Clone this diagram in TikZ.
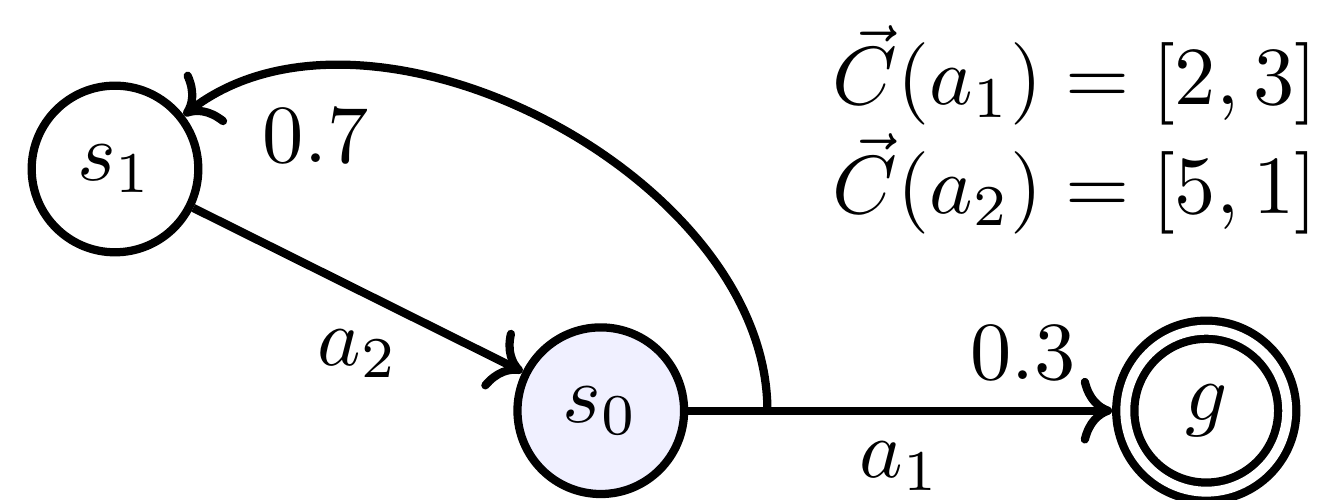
\documentclass[tikz,border=0pt]{standalone}
\usepackage{amsmath}
\usetikzlibrary{arrows.meta,positioning,calc}

\begin{document}
\begin{tikzpicture}[
  st/.style={circle, draw, line width=1pt, minimum size=0.71cm, inner sep=0pt},
  start/.style={fill=blue!6},
  goal/.style={double, double distance=1.2pt, minimum size=0.69cm, outer sep=1.6pt},
  flow/.style={->, line width=1pt},
]
\useasboundingbox (0,0) rectangle (5.68,2.13);

% ---------- states ----------
\node[st] (s1) at (0.49,1.41) {$s_1$};
\node[st, start] (s0) at (2.56,0.38) {$s_0$};
\node[st, goal] (g) at (5.14,0.38) {$g$};
\coordinate (split) at (3.27,0.38);

% ---------- transitions ----------
\draw[flow] (s1) -- node[below=1pt] (la2) {$a_2$} (s0);
\draw[flow] (s0) -- node[below] (la1) {$a_1$} node[pos=0.79, above] (p03) {$0.3$} (g);
\draw[flow] (split) to[out=90, in=38, looseness=0.92] node[pos=0.8, below=1.2pt] (p07) {$0.7$} (s1);

% ---------- cost vectors ----------
\node[anchor=north east, inner sep=0pt, align=right] (costs) at (5.62,2.03)
  {$\vec{C}(a_1) = [2,3]$\\$\vec{C}(a_2) = [5,1]$};
\end{tikzpicture}
\end{document}
